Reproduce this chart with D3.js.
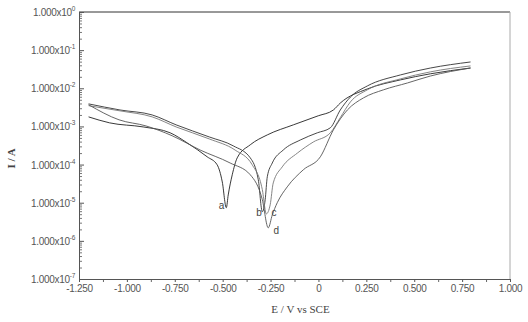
<!DOCTYPE html>
<html>
<head>
<meta charset="utf-8">
<script src="https://cdn.jsdelivr.net/npm/d3@7"></script>
<style>
  body { margin: 0; background: #fff; }
  svg { display: block; }
  .tick text { font-family: "Liberation Sans", Arial, sans-serif; }
</style>
</head>
<body>
<div id="chart"></div>
<script>
// polarisation curves, E in V vs SCE, I in A
var aE = [-1.20, -1.09, -0.915, -0.774, -0.685, -0.581, -0.529, -0.502, -0.481, -0.471, -0.450, -0.424, -0.356, -0.267, -0.131, -0.001, 0.078, 0.114, 0.255, 0.428, 0.585, 0.794];
var aI = [1.78e-3, 1.24e-3, 9.7e-4, 6.8e-4, 3.7e-4, 1.6e-4, 9.9e-5, 3.5e-5, 7.4e-6, 1.6e-5, 5.4e-5, 1.5e-4, 3.3e-4, 6.0e-4, 1.1e-3, 1.9e-3, 2.7e-3, 4.1e-3, 9.6e-3, 1.66e-2, 2.4e-2, 3.4e-2];

var bE = [-1.20, -1.036, -0.868, -0.743, -0.570, -0.445, -0.356, -0.314, -0.293, -0.278, -0.267, -0.241, -0.184, -0.095, -0.006, 0.062, 0.114, 0.167, 0.255, 0.428, 0.585, 0.794];
var bI = [3.9e-3, 2.7e-3, 2.0e-3, 1.1e-3, 5.3e-4, 3.1e-4, 1.5e-4, 4.0e-5, 5.8e-6, 1.2e-5, 4.8e-5, 1.1e-4, 2.4e-4, 4.4e-4, 6.8e-4, 9.2e-4, 2.7e-3, 5.9e-3, 1.15e-2, 2.24e-2, 3.4e-2, 4.9e-2];

var cE = [-1.20, -1.036, -0.868, -0.743, -0.570, -0.435, -0.346, -0.293, -0.272, -0.252, -0.236, -0.189, -0.110, -0.027, 0.062, 0.114, 0.167, 0.255, 0.428, 0.585, 0.794];
var cI = [3.5e-3, 2.56e-3, 1.78e-3, 9.7e-4, 4.7e-4, 2.4e-4, 9.9e-5, 2.2e-5, 5.1e-6, 8.8e-6, 3.3e-5, 8.7e-5, 2.0e-4, 3.9e-4, 6.8e-4, 1.7e-3, 4.4e-3, 9.1e-3, 1.76e-2, 2.7e-2, 3.86e-2];

var dE = [-1.20, -1.041, -0.900, -0.764, -0.617, -0.461, -0.356, -0.293, -0.262, -0.241, -0.215, -0.163, -0.079, 0.010, 0.078, 0.151, 0.235, 0.339, 0.465, 0.585, 0.794];
var dI = [3.7e-3, 1.49e-3, 1.03e-3, 5.7e-4, 2.4e-4, 1.1e-4, 5.4e-5, 1.2e-5, 2.2e-6, 4.8e-6, 1.0e-5, 2.6e-5, 7.3e-5, 1.6e-4, 8.1e-4, 2.7e-3, 5.6e-3, 9.1e-3, 1.38e-2, 2.1e-2, 3.4e-2];

var xTicks = [-1.25, -1.0, -0.75, -0.5, -0.25, 0, 0.25, 0.5, 0.75, 1.0];
var xTickLabels = ["-1.250", "-1.000", "-0.750", "-0.500", "-0.250", "0", "0.250", "0.500", "0.750", "1.000"];
var yExponents = [0, -1, -2, -3, -4, -5, -6, -7];

var curveNames = ["a", "b", "c", "d"];
var curveLabelAt = [[-0.52, 7.0e-6], [-0.325, 4.6e-6], [-0.245, 4.6e-6], [-0.235, 1.5e-6]];

var W = 528, H = 322;
var margin = {top: 12, right: 18, bottom: 43, left: 79};

var svg = d3.select("#chart").append("svg")
  .attr("width", W)
  .attr("height", H);

var x = d3.scaleLinear().domain([-1.25, 1.0]).range([margin.left, W - margin.right]);
var y = d3.scaleLog().domain([1e-7, 1]).range([H - margin.bottom, margin.top]);

// frame top + right
svg.append("line")
  .attr("x1", x(-1.25)).attr("x2", x(1.0))
  .attr("y1", y(1)).attr("y2", y(1))
  .attr("stroke", "#333").attr("stroke-width", 1);
svg.append("line")
  .attr("x1", x(1.0)).attr("x2", x(1.0))
  .attr("y1", y(1)).attr("y2", y(1e-7))
  .attr("stroke", "#aaa").attr("stroke-width", 1);

// y minor ticks (inside)
var minors = [];
yExponents.forEach(function(e) {
  if (e > -7) return;
});
for (var e = -7; e < 0; e++) {
  for (var k = 2; k <= 9; k++) minors.push(k * Math.pow(10, e));
}
svg.append("g")
  .attr("transform", "translate(" + margin.left + ",0)")
  .call(d3.axisRight(y).tickValues(minors).tickSize(3).tickFormat(""))
  .call(function(g) { g.select(".domain").remove(); })
  .selectAll("line").attr("stroke", "#777");

var yAxis = svg.append("g")
  .attr("transform", "translate(" + margin.left + ",0)")
  .call(d3.axisLeft(y)
    .tickValues(yExponents.map(function(e) { return Math.pow(10, e); }))
    .tickSize(-5).tickPadding(4).tickFormat(""));
yAxis.select(".domain").attr("stroke", "#555");
yAxis.selectAll("line").attr("stroke", "#555");

// y labels with superscripts
var ylab = svg.append("g")
  .attr("font-family", "'Liberation Sans', Arial, sans-serif")
  .attr("fill", "#555");
yExponents.forEach(function(e) {
  var t = ylab.append("text")
    .attr("x", margin.left - 4)
    .attr("y", y(Math.pow(10, e)) + 4)
    .attr("text-anchor", "end")
    .attr("font-size", 10)
    .attr("letter-spacing", -0.3);
  t.append("tspan").text("1.000x10");
  t.append("tspan").attr("dy", -5).attr("font-size", 6.5).text(e);
});

// x axis
var xMinor = d3.range(-1.125, 1.0, 0.25);
svg.append("g")
  .attr("transform", "translate(0," + y(1e-7) + ")")
  .call(d3.axisBottom(x).tickValues(xMinor).tickSize(3).tickFormat(""))
  .call(function(g) { g.select(".domain").remove(); })
  .selectAll("line").attr("stroke", "#666");

var xAxis = svg.append("g")
  .attr("transform", "translate(0," + y(1e-7) + ")")
  .call(d3.axisBottom(x).tickValues(xTicks).tickSize(3).tickPadding(3)
    .tickFormat(function(d, i) { return xTickLabels[i]; }));
xAxis.select(".domain").attr("stroke", "#555");
xAxis.selectAll("line").attr("stroke", "#555");
xAxis.selectAll("text")
  .attr("font-size", 10)
  .attr("fill", "#555")
  .attr("letter-spacing", -0.3);

// axis titles
svg.append("text")
  .attr("transform", "translate(15," + (y(1e-3) + 32) + ") rotate(-90)")
  .attr("text-anchor", "middle")
  .attr("font-family", "'Liberation Serif', 'Times New Roman', serif")
  .attr("font-weight", "bold")
  .attr("font-size", 11)
  .attr("fill", "#444")
  .text("I / A");

svg.append("text")
  .attr("x", x(-0.125) + 6)
  .attr("y", H - 9)
  .attr("text-anchor", "middle")
  .attr("font-family", "'Liberation Serif', 'Times New Roman', serif")
  .attr("font-size", 11)
  .attr("fill", "#444")
  .text("E / V vs SCE");

// curves
var series = [
  {E: aE, I: aI, color: "#222"},
  {E: bE, I: bI, color: "#333"},
  {E: cE, I: cI, color: "#777"},
  {E: dE, I: dI, color: "#555"}
];

var line = d3.line()
  .x(function(d) { return x(d[0]); })
  .y(function(d) { return y(d[1]); })
  .curve(d3.curveMonotoneX);

series.forEach(function(s) {
  var pts = s.E.map(function(v, i) { return [v, s.I[i]]; });
  svg.append("path")
    .datum(pts)
    .attr("d", line)
    .attr("fill", "none")
    .attr("stroke", s.color)
    .attr("stroke-width", 0.9);
});

svg.append("g")
  .attr("font-family", "'Liberation Sans', Arial, sans-serif")
  .attr("font-size", 10)
  .attr("fill", "#444")
  .selectAll("text")
  .data(curveNames)
  .join("text")
  .attr("x", function(d, i) { return x(curveLabelAt[i][0]); })
  .attr("y", function(d, i) { return y(curveLabelAt[i][1]); })
  .text(function(d) { return d; });
</script>
</body>
</html>
